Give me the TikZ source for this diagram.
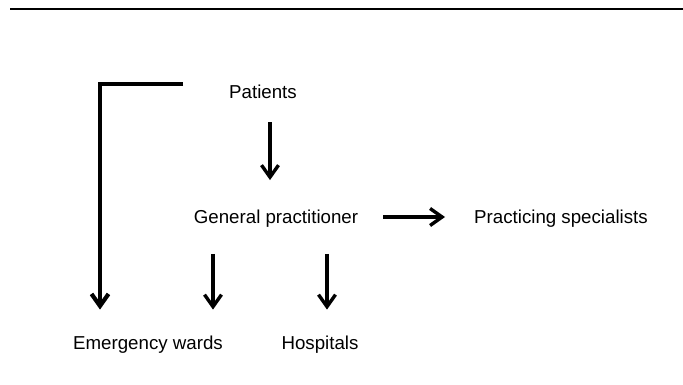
\documentclass[tikz,border=0pt]{standalone}
\usepackage{fontspec}
\setmainfont{Liberation Sans}
\usetikzlibrary{positioning,arrows.meta}

\begin{document}
\begin{tikzpicture}[
    x=1pt,y=-1pt,
    label/.style={inner sep=0pt,font=\fontsize{18.7}{22}\selectfont},
    arr/.style={line width=3.4pt,-{Straight Barb[length=12pt,width=17pt]}},
    rule/.style={line width=2.2pt}
    ]

    \useasboundingbox (0,0) rectangle (683,385);
    \draw[rule] (10,9) -- (683,9);

    \node (pat) [label] at (263,92) {Patients};
    \node (gp) [label] at (276,219) {General practitioner};
    \node (spec) [label] at (561,219) {Practicing specialists};
    \node (emerg) [label] at (148,344.5) {Emergency wards};
    \node (hosp) [label] at (320,344.5) {Hospitals};

    \draw[arr,shorten <=23pt,shorten >=30pt] ([xshift=7pt]pat.south) -- ([xshift=7pt]pat.south |- gp.north);
    \draw[arr,shorten <=25pt,shorten >=29pt] ([yshift=2pt]gp.east) -- ([yshift=2pt]spec.west);
    \draw[arr,shorten <=26pt,shorten >=26pt] ([xshift=-63pt]gp.south) -- ([xshift=65pt]emerg.north);
    \draw[arr,shorten <=26pt,shorten >=26pt] ([xshift=51pt]gp.south) -- ([xshift=7pt]hosp.north);
    \draw[arr,line width=4.2pt,shorten >=26pt] ([xshift=-46pt,yshift=8pt]pat.west) -| ([xshift=-48pt]emerg.north);

  \end{tikzpicture}
\end{document}
